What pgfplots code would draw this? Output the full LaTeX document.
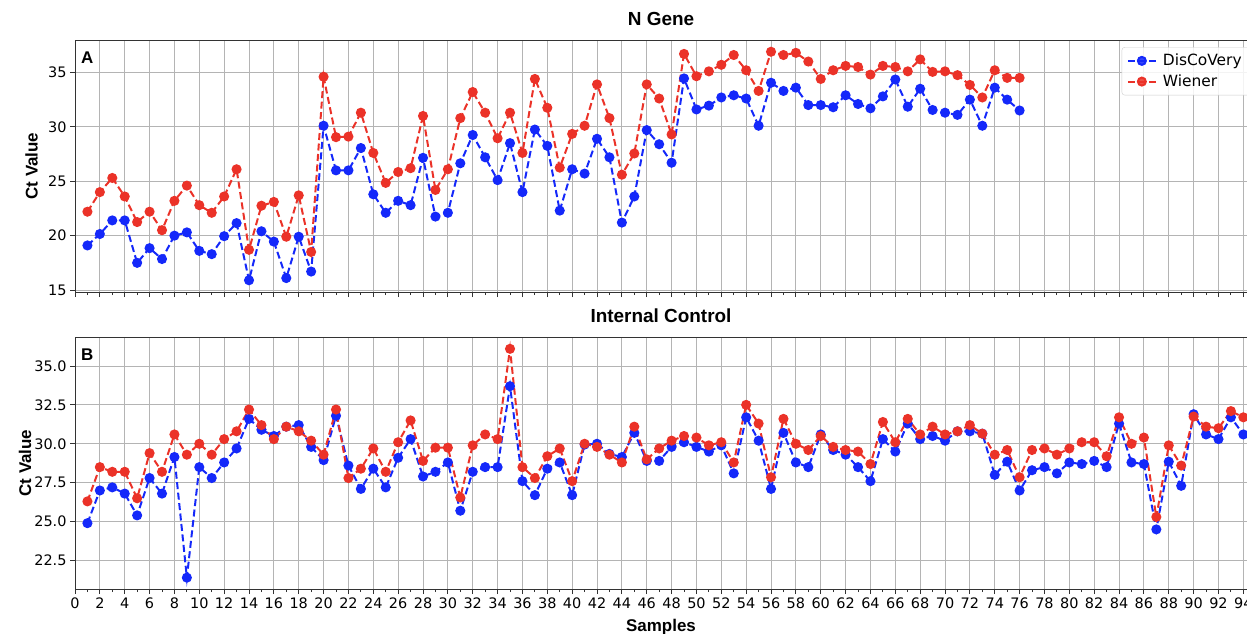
\documentclass[border=0pt]{standalone}
\usepackage{fontspec}
\setmainfont{DejaVu Sans}
\newfontfamily\arial{Liberation Sans}
\usepackage{pgfplots}
\pgfplotsset{compat=1.18}
\definecolor{cblue}{RGB}{20,40,250}
\definecolor{cred}{RGB}{235,50,40}
\definecolor{gridc}{RGB}{180,180,180}
\pgfplotsset{
  panel/.style={
    scale only axis, width=1172bp, height=252bp,
    xmin=0, xmax=94.3,
    xtick distance=2, minor x tick num=1,
    tick align=outside, xtick pos=bottom, ytick pos=left,
    grid=major, major grid style={gridc, line width=0.9bp},
    major tick length=5bp, minor tick length=3bp,
    every tick/.style={black!80, line width=0.9bp},
    axis line style={black!80, line width=1bp},
    tick label style={font=\fontsize{14.5}{16}\selectfont},
    /pgf/number format/assume math mode=true,
    title style={font=\arial\bfseries\fontsize{19}{22}\selectfont, at={(0.5,1)}, anchor=south, yshift=5bp},
    legend image code/.code={\draw[mark repeat=2,mark phase=2] plot coordinates {(0bp,0bp) (14bp,0bp) (28bp,0bp)};},
  },
  bl/.style={cblue, line width=2bp, dash pattern=on 7bp off 3.5bp, mark=*, mark size=4bp, mark options={solid, fill=cblue, draw=cblue}},
  rd/.style={cred, line width=2bp, dash pattern=on 7bp off 3.5bp, mark=*, mark size=4bp, mark options={solid, fill=cred, draw=cred}},
}
\begin{document}
\begin{tikzpicture}
\useasboundingbox (0bp,0bp) rectangle (1247bp,-634bp);
\begin{axis}[panel, at={(75bp,-40bp)}, anchor=north west,
  ymin=14.82, ymax=37.98, ytick={15,20,25,30,35},
  xticklabels={},
  title={N Gene}, ylabel={Ct Value},
  ylabel style={font=\arial\bfseries\fontsize{17}{20}\selectfont, at={(axis description cs:-0.037,0.5)}, anchor=center},
  legend style={at={(rel axis cs:0.893,0.972)}, anchor=north west, draw=black!20, rounded corners=3bp,
    font=\fontsize{15.5}{18}\selectfont, fill=white, fill opacity=0.85, text opacity=1, draw opacity=1,
    row sep=3.5bp, inner xsep=5bp, inner ysep=5bp, cells={anchor=west},
    /tikz/every even column/.append style={column sep=0bp}, nodes={inner xsep=6bp}},
]
\addplot[bl] coordinates {
(1,19.1) (2,20.15) (3,21.4) (4,21.4) (5,17.5) (6,18.85) (7,17.85) (8,20.0) (9,20.3) (10,18.6)
(11,18.3) (12,19.95) (13,21.15) (14,15.9) (15,20.4) (16,19.45) (17,16.1) (18,19.9) (19,16.7) (20,30.1)
(21,26.0) (22,26.0) (23,28.05) (24,23.8) (25,22.1) (26,23.2) (27,22.8) (28,27.15) (29,21.75) (30,22.1)
(31,26.65) (32,29.25) (33,27.2) (34,25.1) (35,28.5) (36,24.0) (37,29.75) (38,28.25) (39,22.3) (40,26.1)
(41,25.7) (42,28.9) (43,27.2) (44,21.2) (45,23.6) (46,29.7) (47,28.4) (48,26.7) (49,34.45) (50,31.6)
(51,31.95) (52,32.7) (53,32.9) (54,32.6) (55,30.1) (56,34.05) (57,33.3) (58,33.6) (59,32.0) (60,32.0)
(61,31.8) (62,32.9) (63,32.1) (64,31.7) (65,32.8) (66,34.35) (67,31.85) (68,33.5) (69,31.55) (70,31.3)
(71,31.1) (72,32.5) (73,30.1) (74,33.6) (75,32.5) (76,31.5)
};
\addlegendentry{DisCoVery}
\addplot[rd] coordinates {
(1,22.2) (2,24.0) (3,25.3) (4,23.6) (5,21.25) (6,22.2) (7,20.5) (8,23.2) (9,24.6) (10,22.8)
(11,22.1) (12,23.6) (13,26.1) (14,18.7) (15,22.75) (16,23.1) (17,19.9) (18,23.7) (19,18.5) (20,34.6)
(21,29.05) (22,29.1) (23,31.3) (24,27.6) (25,24.85) (26,25.85) (27,26.2) (28,31.0) (29,24.2) (30,26.1)
(31,30.8) (32,33.2) (33,31.3) (34,28.95) (35,31.3) (36,27.6) (37,34.4) (38,31.75) (39,26.25) (40,29.35)
(41,30.1) (42,33.9) (43,30.8) (44,25.6) (45,27.55) (46,33.9) (47,32.6) (48,29.3) (49,36.7) (50,34.65)
(51,35.1) (52,35.7) (53,36.6) (54,35.2) (55,33.3) (56,36.9) (57,36.6) (58,36.8) (59,36.0) (60,34.4)
(61,35.2) (62,35.6) (63,35.5) (64,34.8) (65,35.6) (66,35.5) (67,35.1) (68,36.2) (69,35.05) (70,35.1)
(71,34.75) (72,33.85) (73,32.7) (74,35.2) (75,34.5) (76,34.5)
};
\addlegendentry{Wiener}
\node[font=\arial\bfseries\fontsize{17}{20}\selectfont, anchor=north west, inner sep=0pt] at ([xshift=6bp,yshift=-12bp]rel axis cs:0,1) {A};
\end{axis}
\begin{axis}[panel, at={(75bp,-337bp)}, anchor=north west,
  ymin=20.67, ymax=36.86, ytick={22.5,25,27.5,30,32.5,35},
  yticklabel style={/pgf/number format/.cd, fixed, fixed zerofill, precision=1},
  title={Internal Control}, ylabel={Ct Value}, xlabel={Samples},
  ylabel style={font=\arial\bfseries\fontsize{17}{20}\selectfont, at={(axis description cs:-0.0425,0.5)}, anchor=center},
  xlabel style={font=\arial\bfseries\fontsize{17}{20}\selectfont, at={(axis description cs:0.5,-0.118)}, anchor=north, inner sep=0pt},
]
\addplot[bl] coordinates {
(1,24.9) (2,27.0) (3,27.2) (4,26.8) (5,25.4) (6,27.8) (7,26.8) (8,29.15) (9,21.4) (10,28.5)
(11,27.8) (12,28.8) (13,29.7) (14,31.6) (15,30.9) (16,30.5) (17,31.1) (18,31.2) (19,29.8) (20,28.95)
(21,31.8) (22,28.6) (23,27.1) (24,28.4) (25,27.2) (26,29.1) (27,30.3) (28,27.9) (29,28.2) (30,28.8)
(31,25.7) (32,28.2) (33,28.5) (34,28.5) (35,33.7) (36,27.6) (37,26.7) (38,28.4) (39,28.8) (40,26.7)
(41,29.95) (42,30.0) (43,29.35) (44,29.15) (45,30.7) (46,28.9) (47,28.9) (48,29.8) (49,30.1) (50,29.8)
(51,29.5) (52,29.9) (53,28.1) (54,31.7) (55,30.2) (56,27.1) (57,30.7) (58,28.8) (59,28.5) (60,30.6)
(61,29.6) (62,29.3) (63,28.5) (64,27.6) (65,30.3) (66,29.5) (67,31.3) (68,30.3) (69,30.5) (70,30.2)
(71,30.8) (72,30.8) (73,30.65) (74,28.0) (75,28.85) (76,27.0) (77,28.3) (78,28.5) (79,28.1) (80,28.8)
(81,28.7) (82,28.9) (83,28.5) (84,31.3) (85,28.8) (86,28.7) (87,24.5) (88,28.85) (89,27.3) (90,31.9)
(91,30.6) (92,30.3) (93,31.7) (94,30.6)
};
\addplot[rd] coordinates {
(1,26.3) (2,28.5) (3,28.2) (4,28.2) (5,26.5) (6,29.4) (7,28.2) (8,30.6) (9,29.3) (10,30.0)
(11,29.3) (12,30.3) (13,30.8) (14,32.2) (15,31.2) (16,30.3) (17,31.1) (18,30.8) (19,30.2) (20,29.3)
(21,32.2) (22,27.8) (23,28.4) (24,29.7) (25,28.2) (26,30.1) (27,31.5) (28,28.9) (29,29.75) (30,29.75)
(31,26.55) (32,29.9) (33,30.6) (34,30.3) (35,36.1) (36,28.5) (37,27.8) (38,29.2) (39,29.7) (40,27.6)
(41,30.0) (42,29.8) (43,29.3) (44,28.8) (45,31.1) (46,29.0) (47,29.7) (48,30.2) (49,30.5) (50,30.4)
(51,29.9) (52,30.1) (53,28.8) (54,32.5) (55,31.3) (56,27.85) (57,31.6) (58,30.0) (59,29.6) (60,30.5)
(61,29.8) (62,29.6) (63,29.5) (64,28.7) (65,31.4) (66,30.1) (67,31.6) (68,30.6) (69,31.1) (70,30.6)
(71,30.8) (72,31.2) (73,30.65) (74,29.3) (75,29.6) (76,27.85) (77,29.6) (78,29.7) (79,29.3) (80,29.7)
(81,30.1) (82,30.1) (83,29.2) (84,31.7) (85,30.0) (86,30.4) (87,25.3) (88,29.9) (89,28.6) (90,31.75)
(91,31.1) (92,31.0) (93,32.1) (94,31.7)
};
\node[font=\arial\bfseries\fontsize{17}{20}\selectfont, anchor=north west, inner sep=0pt] at ([xshift=6bp,yshift=-12bp]rel axis cs:0,1) {B};
\end{axis}
\end{tikzpicture}
\end{document}
